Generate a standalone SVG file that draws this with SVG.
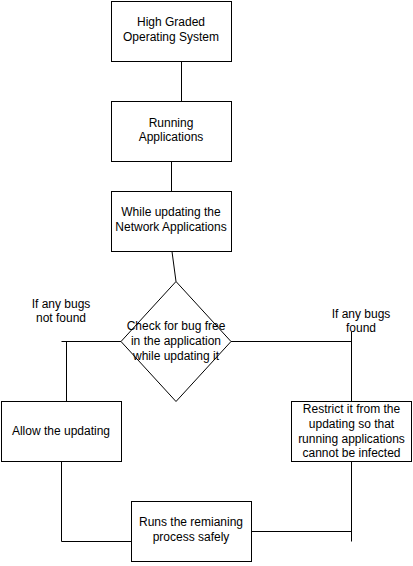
<svg xmlns="http://www.w3.org/2000/svg" width="413" height="566" viewBox="0 0 413 566">
<style>
.box{fill:#fff;stroke:#000;stroke-width:1}
.ln{fill:none;stroke:#000;stroke-width:1}
text{font-family:"Liberation Sans",Arial,sans-serif;font-size:12px;fill:#000;text-anchor:middle}
</style>
<rect width="413" height="566" fill="#fff"/>
<g id="connectors">
<path class="ln" d="M181.5,61.5V101.5"/>
<path class="ln" d="M171.5,161.5V191.5"/>
<path class="ln" d="M172,251.5L176,281.5"/>
<path class="ln" d="M121.5,341.5H61.5"/>
<path class="ln" d="M66.5,341.5V401.5"/>
<path class="ln" d="M230.5,341.5H351.5"/>
<path class="ln" d="M351.5,331.5V401.5"/>
<path class="ln" d="M61.5,461.5V541.5H131.5"/>
<path class="ln" d="M251.5,531.5H351.5"/>
<path class="ln" d="M351.5,461.5V541.5"/>
</g>
<g id="n1"><rect class="box" x="111.5" y="1.5" width="120" height="60"/><text x="171" y="26">High Graded</text><text x="171" y="41">Operating System</text></g>
<g id="n2"><rect class="box" x="111.5" y="101.5" width="120" height="60"/><text x="171" y="126.5">Running</text><text x="171" y="141">Applications</text></g>
<g id="n3"><rect class="box" x="111.5" y="191.5" width="120" height="60"/><text x="171" y="215.5">While updating the</text><text x="171" y="231">Network Applications</text></g>
<g id="n4"><polygon class="box" points="176,281.5 231,341.5 176,401.5 121,341.5"/><text x="176" y="329.5">Check for bug free</text><text x="176" y="344.5">in the application</text><text x="176" y="359.5">while updating it</text></g>
<g id="lblNot"><text x="61" y="308">If any bugs</text><text x="61" y="322">not found</text></g>
<g id="lblFound"><text x="361" y="318">If any bugs</text><text x="361" y="332">found</text></g>
<g id="n5"><rect class="box" x="1.5" y="401.5" width="120" height="60"/><text x="61" y="434.5">Allow the updating</text></g>
<g id="n6"><rect class="box" x="291.5" y="401.5" width="120" height="60"/><text x="351.5" y="412.5">Restrict it from the</text><text x="351.5" y="427.5">updating so that</text><text x="351.5" y="442.5">running applications</text><text x="351.5" y="457">cannot be infected</text></g>
<g id="n7"><rect class="box" x="131.5" y="501.5" width="120" height="60"/><text x="191" y="526">Runs the remianing</text><text x="191" y="541">process safely</text></g>
</svg>
